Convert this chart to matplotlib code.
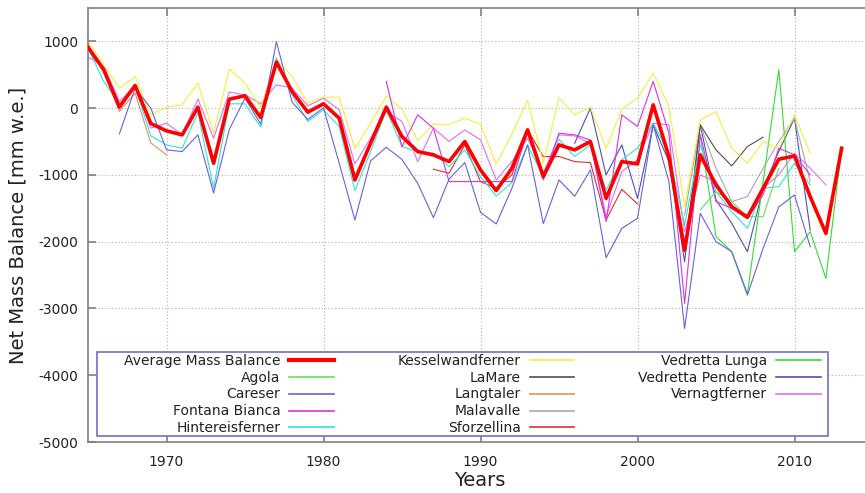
import numpy as np
import matplotlib
matplotlib.use("Agg")
import matplotlib.pyplot as plt
from matplotlib.patches import Rectangle
from matplotlib.lines import Line2D

plt.rcParams["axes.unicode_minus"] = False

# ---- data (mm w.e.), each series: first year + values ----
avg_start = 1965
avg_vals = [915, 575, 15, 340, -230, -340, -400, 15, -825, 135, 185, -140, 690, 250,
            -60, 65, -150, -1075, -525, 15, -425, -650, -700, -800, -500, -925, -1235,
            -900, -325, -1025, -550, -625, -500, -1350, -800, -835, 50, -725, -2125,
            -700, -1150, -1475, -1635, -1200, -765, -715, -1325, -1875, -600]

agola_start = 2004
agola_vals = [-1525, -1250, -1400, -1625, -1625, -900]

careser_start = 1967
careser_vals = [-385, 300, 0, -625, -650, -400, -1270, -320, 150, -240, 995, 90, -170,
                5, -825, -1675, -790, -585, -770, -1125, -1640, -1060, -815, -1560,
                -1735, -1200, -550, -1730, -1075, -1320, -925, -2240, -1800, -1650,
                -250, -1100, -3300, -1575, -2000, -2150, -2800, -2100, -1480, -1300, -2075]

fontana_start = 1984
fontana_vals = [400, -580, -100, -300, -1100, -1100, -1100, -1100, -1100, -350, -1075,
                -375, -400, -475, -1700, -100, -275, 400, -375, -2925, -400, -1400,
                -1500, -1650, -1300, -600, -700, -1000]

hintereis_start = 1965
hintereis_vals = [900, 400, 65, 315, -415, -550, -600, -65, -1200, 65, 65, -285, 750, 200,
                  -200, -25, -275, -1235, -650, -25, -575, -650, -675, -875, -625, -1025,
                  -1315, -1115, -550, -1025, -465, -725, -550, -1225, -775, -600, -225,
                  -675, -1750, -550, -1250, -1550, -1800, -1200, -1175, -825, -1150]

kessel_start = 1965
kessel_vals = [1000, 650, 300, 470, -100, 15, 50, 375, -375, 585, 375, 10, 725, 475, 75,
               165, 165, -610, -225, 180, -10, -490, -235, -250, -150, -240, -835, -390,
               120, -825, 155, -100, 15, -600, -15, 150, 525, 25, -1475, -175, -50, -600,
               -825, -500, -600, -100, -675]

lamare_start = 2003
lamare_vals = [-2150, -250, -625, -865, -575, -435]

langtaler_start = 1965
langtaler_vals = [925, 575, -50, 225, -520, -700]

malavalle_start = 2003
malavalle_vals = [-1600, -250, -900, -1400, -1325, -900, -500, -150, -1100]

sforzellina_start = 1987
sforzellina_vals = [-915, -975, -550, -1100, -1200, -1000, -325, -725, -725, -800, -815,
                    -1675, -1215, -1435]

lunga_start = 2004
lunga_vals = [-400, -1925, -2150, -2775, -1100, 575, -2150, -1850, -2550, -600]

pendente_start = 1996
pendente_vals = [-525, 0, -1000, -550, -1350, -250, -800, -2300, -250, -1375, -1725,
                 -2150, -1200, -650, -150, -1825]

vernagt_start = 1965
vernagt_vals = [765, 635, 100, 335, -300, -225, -400, 135, -450, 240, 200, 65, 350, 300,
                35, 150, -25, -835, -450, -50, -200, -800, -300, -500, -325, -475, -1075,
                -800, -450, -975, -400, -415, -525, -1625, -950, -775, -225, -250, -1850,
                -1000, -1100, -1500, -1600, -1200, -1000, -675, -900, -1150]

labels = ["Average Mass Balance", "Agola", "Careser", "Fontana Bianca", "Hintereisferner",
          "Kesselwandferner", "LaMare", "Langtaler", "Malavalle", "Sforzellina",
          "Vedretta Lunga", "Vedretta Pendente", "Vernagtferner"]
x_ticks = [1970, 1980, 1990, 2000, 2010]
y_ticks = [1000, 0, -1000, -2000, -3000, -4000, -5000]

series = [
    (avg_start, avg_vals), (agola_start, agola_vals), (careser_start, careser_vals),
    (fontana_start, fontana_vals), (hintereis_start, hintereis_vals),
    (kessel_start, kessel_vals), (lamare_start, lamare_vals),
    (langtaler_start, langtaler_vals), (malavalle_start, malavalle_vals),
    (sforzellina_start, sforzellina_vals), (lunga_start, lunga_vals),
    (pendente_start, pendente_vals), (vernagt_start, vernagt_vals),
]
colors = ["#ff0000", "#66dd66", "#6464dc", "#dd33dd", "#33e0e0", "#f0f040", "#505050",
          "#e8905a", "#a8a8a8", "#d83030", "#33dd33", "#5050b4", "#e070f0"]

# ---- figure ----
W, H = 865, 493
fig = plt.figure(figsize=(W / 100, H / 100), dpi=100)
ax = fig.add_axes([88 / W, (H - 442) / H, 785 / W, 434 / H])

line_by_label = {}
for i in range(len(series) - 1, 0, -1):
    start, vals = series[i]
    yrs = np.arange(start, start + len(vals))
    ln, = ax.plot(yrs, vals, color=colors[i], lw=0.8, label=labels[i], zorder=2)
    line_by_label[labels[i]] = ln
ln_avg, = ax.plot(np.arange(avg_start, avg_start + len(avg_vals)), avg_vals,
                  color=colors[0], lw=2.6, label=labels[0], zorder=5)
line_by_label[labels[0]] = ln_avg

ax.set_xlim(1965, 2015)
ax.set_ylim(-5000, 1500)
ax.set_xticks(x_ticks)
ax.set_yticks(y_ticks)
ax.grid(True, color="#b0b0b0", linestyle=(0, (1, 2)), lw=0.8)
for side in ["left", "bottom", "top", "right"]:
    ax.spines[side].set_color("#808080")
    ax.spines[side].set_linewidth(1.2)
ax.tick_params(direction="in", length=6, width=1.2, color="#808080", labelsize=10,
               labelcolor="#222222", top=True, pad=7)
ax.tick_params(axis="x", pad=9)
ax.set_xlabel("Years", fontsize=14, color="#222222", va="center")
ax.set_ylabel("Net Mass Balance [mm w.e.]", fontsize=14, color="#222222")
ax.xaxis.set_label_coords(392 / 785, -(481 - 442) / 434)
ax.yaxis.set_label_coords(-60 / 785, 0.5)

# legend in label order, 5 / 5 / 3 columns
hh = [line_by_label[n] for n in labels]
ll = list(labels)
blank = [Line2D([], [], color="none"), Line2D([], [], color="none")]
hh = hh + blank
ll = ll + ["", ""]
leg = fig.legend(hh, ll, ncol=3, markerfirst=False, frameon=False, fontsize=10,
                 handlelength=3.2, handletextpad=0.65, columnspacing=4.6,
                 labelspacing=0.21, borderpad=0, loc="upper left",
                 bbox_to_anchor=(117 / W, (H - 346.7) / H))
for t in leg.get_texts():
    t.set_color("#222222")
for k, lh in enumerate(leg.legend_handles[:len(labels)]):
    lh.set_linewidth(3.0 if k == 0 else 1.2)
fig.add_artist(Rectangle((97.4 / W, (H - 435.7) / H), (828.2 - 97.4) / W, 84 / H,
                         transform=fig.transFigure, fill=True, facecolor="white",
                         edgecolor="#7070c8", lw=1.2, zorder=3))
leg.set_zorder(4)

fig.savefig("out.png", dpi=100)
